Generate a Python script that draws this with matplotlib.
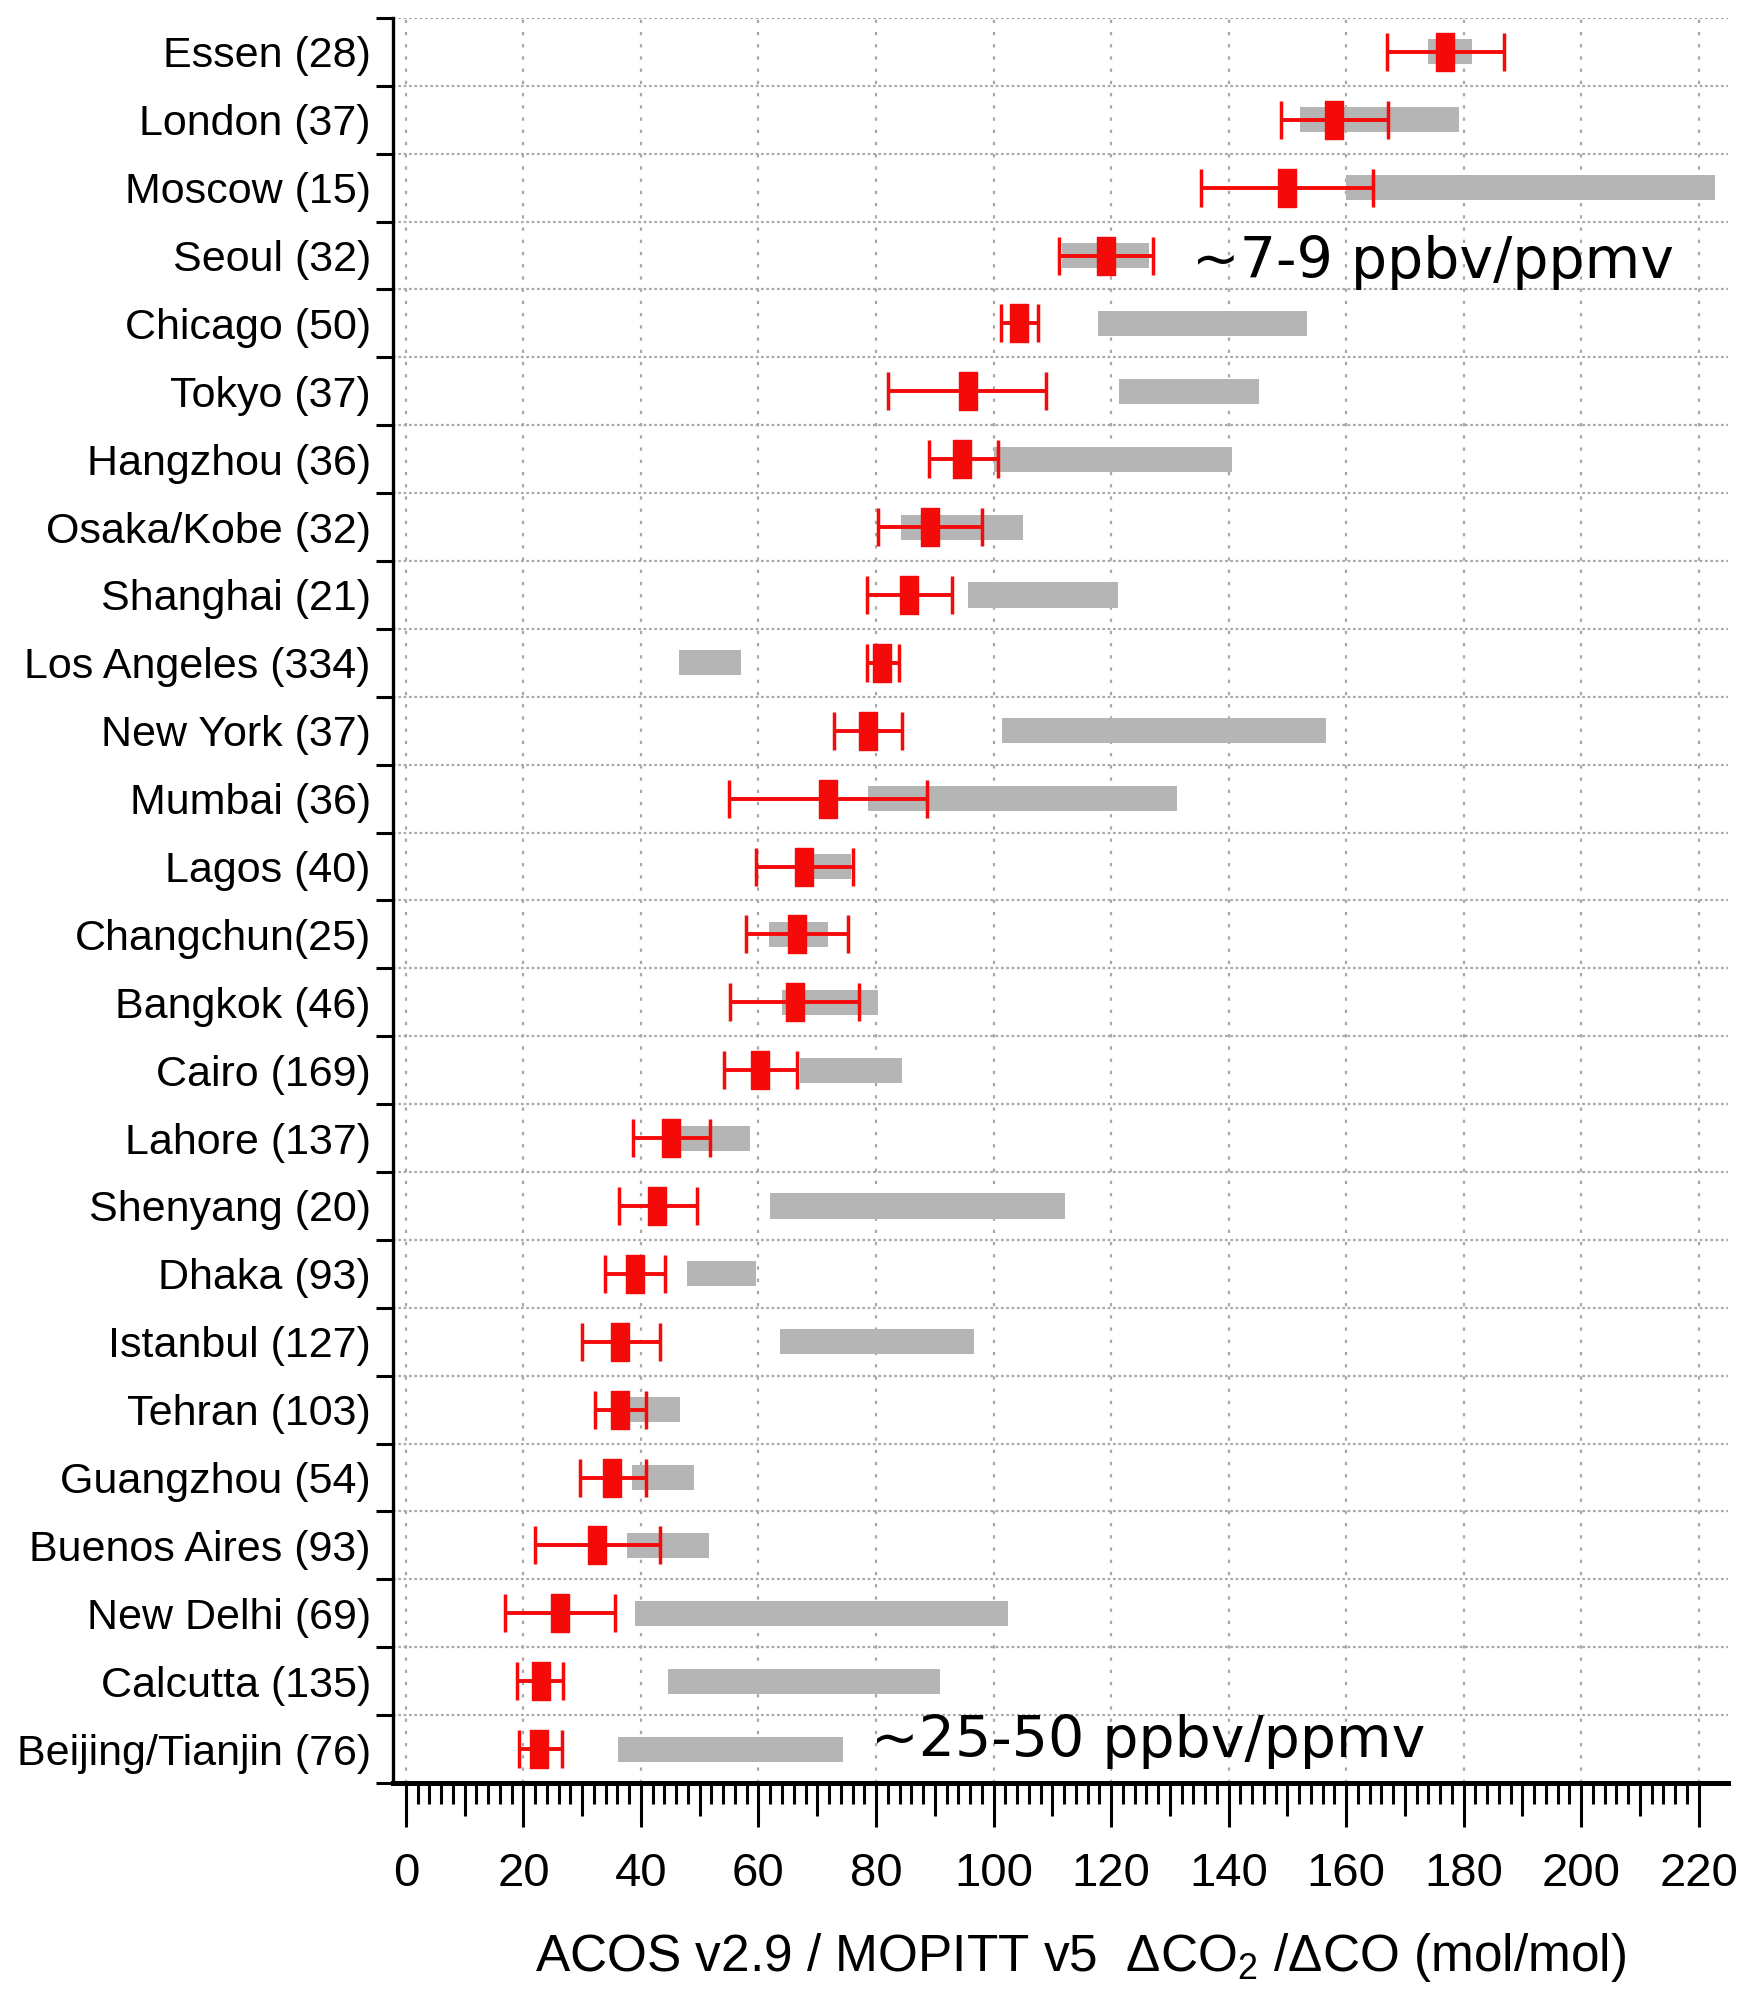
import numpy as np
import matplotlib
matplotlib.use('Agg')
import matplotlib.pyplot as plt
from matplotlib.path import Path

# cities (number of overpasses), top to bottom
cities = ['Essen (28)', 'London (37)', 'Moscow (15)', 'Seoul (32)', 'Chicago (50)',
          'Tokyo (37)', 'Hangzhou (36)', 'Osaka/Kobe (32)', 'Shanghai (21)',
          'Los Angeles (334)', 'New York (37)', 'Mumbai (36)', 'Lagos (40)',
          'Changchun(25)', 'Bangkok (46)', 'Cairo (169)', 'Lahore (137)',
          'Shenyang (20)', 'Dhaka (93)', 'Istanbul (127)', 'Tehran (103)',
          'Guangzhou (54)', 'Buenos Aires (93)', 'New Delhi (69)',
          'Calcutta (135)', 'Beijing/Tianjin (76)']

# satellite ratio with its range (red)
ratio = [176.8, 158.0, 150.0, 119.2, 104.4, 95.6, 94.7, 89.2, 85.6, 81.1, 78.6,
         71.8, 67.8, 66.6, 66.2, 60.3, 45.1, 42.8, 38.9, 36.5, 36.4, 35.1, 32.5,
         26.3, 23.0, 22.7]
ratio_lo = [166.9, 148.9, 135.3, 111.2, 101.2, 82.1, 89.1, 80.3, 78.4, 78.5, 72.9,
            55.0, 59.5, 57.9, 55.2, 54.1, 38.6, 36.2, 33.9, 30.0, 32.2, 29.6, 22.0,
            16.8, 18.9, 19.2]
ratio_hi = [186.9, 167.2, 164.6, 127.2, 107.5, 109.0, 100.8, 98.0, 93.0, 83.9, 84.4,
            88.7, 76.0, 75.3, 77.1, 66.6, 51.7, 49.6, 44.1, 43.2, 40.8, 40.9, 43.2,
            35.6, 26.8, 26.5]

# inventory range (gray bars)
inv_lo = [174.0, 152.1, 160.0, 111.7, 117.8, 121.4, 100.0, 84.2, 95.6, 46.4, 101.5,
          78.6, 68.6, 61.8, 64.0, 67.1, 46.0, 61.9, 47.9, 63.6, 36.0, 38.4, 37.6,
          38.9, 44.6, 36.1]
inv_hi = [181.5, 179.2, 222.7, 126.4, 153.4, 145.1, 140.5, 105.0, 121.2, 57.1, 156.5,
          131.2, 75.8, 71.9, 80.3, 84.4, 58.6, 112.1, 59.5, 96.7, 46.7, 49.1, 51.6,
          102.5, 90.9, 74.3]

plt.rcParams['mathtext.fontset'] = 'custom'
plt.rcParams['mathtext.rm'] = 'Liberation Sans'
label_font = 'Liberation Sans'

red = '#f50a0a'
gray = '#b5b5b5'
grid_c = '#a8a8a8'

fig = plt.figure(figsize=(17.42, 19.92), dpi=100)
ax = fig.add_axes([0.2256, 0.1049, 0.7664, 0.8861])

n = len(cities)
y = np.arange(n)
ratio = np.array(ratio)
inv_lo = np.array(inv_lo)
inv_hi = np.array(inv_hi)

# grid
for gx in range(0, 221, 20):
    ax.axvline(gx, color=grid_c, lw=1.6, ls=(0, (1.5, 4)), zorder=0)
for gy in np.arange(n + 1) - 0.5:
    ax.axhline(gy, color=grid_c, lw=1.6, ls=(0, (1.2, 1.2)), zorder=0)

ax.barh(y, inv_hi - inv_lo, left=inv_lo, height=0.37, color=gray, zorder=2)

tall_box = Path([(-0.25, -0.5), (0.25, -0.5), (0.25, 0.5), (-0.25, 0.5), (-0.25, -0.5)],
                [Path.MOVETO, Path.LINETO, Path.LINETO, Path.LINETO, Path.CLOSEPOLY])
xerr = [ratio - np.array(ratio_lo), np.array(ratio_hi) - ratio]
ax.errorbar(ratio, y, xerr=xerr, fmt='none', ecolor=red, elinewidth=2.8,
            capsize=14, capthick=2.5, zorder=3)
ax.plot(ratio, y, ls='none', marker=tall_box, markersize=27, color=red,
        mec=red, zorder=4)

ax.text(133.8, 3.33, '~7-9 ppbv/ppmv', fontsize=41, family='DejaVu Sans',
        va='baseline', ha='left', zorder=5)
ax.text(79.2, 25.12, '~25-50 ppbv/ppmv', fontsize=41, family='DejaVu Sans',
        va='baseline', ha='left', zorder=5)

ax.set_xlim(-2.2, 225)
ax.set_ylim(n - 0.5, -0.5)

# y axis: ticks on row boundaries, labels at row centres
ax.set_yticks(np.arange(n + 1) - 0.5)
ax.set_yticklabels([])
ax.set_yticks(y, minor=True)
ax.set_yticklabels(cities, minor=True, family=label_font, fontsize=31)
ax.tick_params(axis='y', which='major', direction='out', length=12, width=2.2)
ax.tick_params(axis='y', which='minor', length=0, pad=16)

# x axis: long ticks every 20, medium every 10, short every 2
ax.set_xticks(np.arange(0, 221, 10))
ax.set_xticklabels([str(v) if v % 20 == 0 else '' for v in range(0, 221, 10)],
                   family=label_font, fontsize=34)
ax.set_xticks(np.arange(0, 221, 2), minor=True)
ax.tick_params(axis='x', which='major', direction='out', length=32, width=2.2, pad=18)
ax.tick_params(axis='x', which='minor', direction='out', length=15, width=2.2)
for v, tick in zip(range(0, 221, 10), ax.xaxis.get_major_ticks()):
    if v % 20:
        tick.tick1line.set_markersize(24)

for s in ['top', 'right']:
    ax.spines[s].set_visible(False)
ax.spines['left'].set_linewidth(2.4)
ax.spines['bottom'].set_linewidth(3.6)

ax.set_xlabel('ACOS v2.9 / MOPITT v5  \u0394CO$_2$ /\u0394CO (mol/mol)',
              fontsize=37, family='Liberation Sans')
ax.xaxis.set_label_coords(0.515, -0.0986)
ax.xaxis.label.set_verticalalignment('center')

fig.savefig('out.png', dpi=100)
